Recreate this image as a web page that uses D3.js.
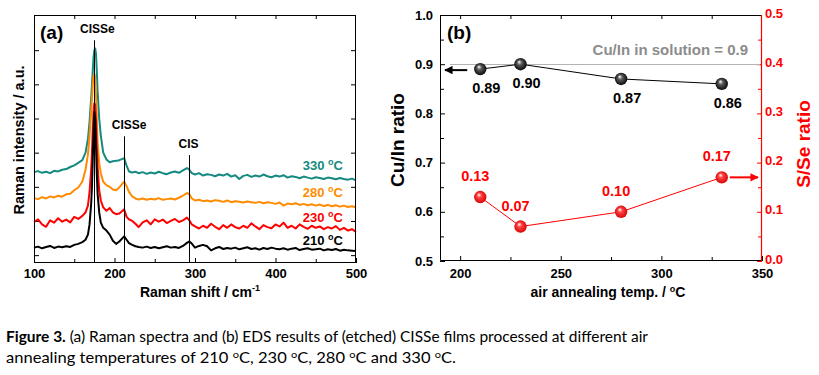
<!DOCTYPE html>
<html>
<head>
<meta charset="utf-8">
<script src="https://cdnjs.cloudflare.com/ajax/libs/d3/7.8.5/d3.min.js"></script>
<style>
  body { margin: 0; background: #fff; }
  svg { display: block; font-family: "Liberation Sans", Arial, sans-serif; }
</style>
</head>
<body>
<div id="chart"></div>
<script>
// ---- panel (a): Raman spectra (intensity in arbitrary units, offset per curve)
var ramanX = [100,105,110,115,120,125,130,135,140,145,150,155,160,
  164,167,169,171,172,173,174,175,176,177,178,179,181,183,186,190,194,198,202,206,210,212,215,218,222,226,
  230,235,240,245,250,255,260,265,270,275,280,285,290,
  293,296,
  300,305,310,315,320,325,330,335,340,345,350,355,360,365,370,375,380,385,390,395,400,
  405,410,415,420,425,430,435,440,445,450,455,460,465,470,475,480,485,490,495,500];

var int210 = [0.22,0.25,0.2,0.24,0.27,0.21,0.25,0.23,0.26,0.24,0.3,0.33,0.38,
  0.45,0.6,0.9,1.5,2.0,2.8,3.6,4.2,4.0,3.2,2.4,1.8,1.25,0.95,0.8,0.72,0.6,0.42,0.33,0.4,0.5,0.55,0.45,0.35,0.3,0.26,
  0.24,0.22,0.25,0.21,0.24,0.2,0.23,0.26,0.22,0.24,0.21,0.27,0.36,
  0.4,0.34,
  0.22,0.27,0.3,0.26,0.14,0.2,0.24,0.18,0.21,0.19,0.22,0.17,0.2,0.23,0.18,0.2,0.16,0.21,0.18,0.22,0.19,
  0.17,0.2,0.16,0.19,0.21,0.15,0.18,0.2,0.16,0.17,0.19,0.14,0.17,0.15,0.18,0.13,0.16,0.14,0.13,0.12];

var int230 = [0.97,1.05,0.9,0.83,1.02,0.95,1.08,0.98,1.04,0.96,1.12,1.06,1.15,
  1.25,1.45,1.85,2.5,3.0,3.7,4.2,4.45,4.4,3.9,3.2,2.6,1.9,1.6,1.4,1.3,1.38,1.25,1.2,1.22,1.3,1.34,1.12,1.05,1.0,0.92,
  0.82,0.96,1.02,0.9,1.05,0.98,1.04,0.94,1.0,1.06,0.97,1.02,1.1,
  1.02,0.9,
  0.84,0.78,0.86,0.8,0.92,0.83,0.76,0.88,0.8,0.9,0.82,0.78,0.86,0.8,0.93,0.84,0.76,0.88,0.82,0.79,0.9,
  0.84,0.95,0.8,0.86,0.78,0.9,0.83,0.77,0.86,0.8,0.84,0.76,0.82,0.78,0.85,0.74,0.8,0.72,0.76,0.68];

var int280 = [1.67,1.64,1.7,1.66,1.72,1.69,1.74,1.71,1.78,1.8,1.9,1.98,2.15,
  2.5,2.95,3.5,4.2,4.6,5.0,5.25,5.3,5.2,4.7,4.0,3.3,2.7,2.4,2.15,2.05,2.0,1.92,1.9,1.98,2.1,2.15,2.02,1.85,1.72,1.66,
  1.63,1.66,1.62,1.65,1.63,1.67,1.62,1.64,1.66,1.63,1.68,1.74,1.82,
  1.78,1.66,
  1.6,1.62,1.58,1.6,1.57,1.61,1.59,1.56,1.6,1.55,1.58,1.56,1.54,1.57,1.55,1.53,1.56,1.52,1.55,1.53,1.5,
  1.54,1.45,1.51,1.49,1.52,1.47,1.5,1.46,1.49,1.45,1.48,1.44,1.47,1.43,1.46,1.42,1.45,1.41,1.43,1.4];

var int330 = [2.43,2.46,2.41,2.44,2.4,2.47,2.45,2.5,2.52,2.58,2.63,2.7,2.78,
  3.0,3.4,3.9,4.6,5.0,5.4,5.8,6.0,6.05,5.9,5.4,4.8,4.0,3.5,3.0,2.8,2.72,2.75,2.76,2.78,2.82,2.84,2.62,2.45,2.42,2.44,
  2.4,2.43,2.38,2.42,2.39,2.44,2.4,2.37,2.42,2.45,2.41,2.48,2.55,
  2.5,2.4,
  2.36,2.4,2.33,2.37,2.35,2.31,2.36,2.33,2.38,2.3,2.34,2.23,2.32,2.35,2.29,2.33,2.3,2.36,2.31,2.28,2.33,
  2.3,2.34,2.27,2.31,2.29,2.25,2.3,2.27,2.24,2.28,2.26,2.23,2.27,2.25,2.22,2.26,2.23,2.21,2.24,2.19];

var tempNames = ['330', '280', '230', '210'];
var tempLabelLevel = [2.48, 1.70, 0.98, 0.29];   // label baseline, a.u.

// peak markers: position, top of marker line (a.u.), label
var peakPos = [175, 212, 292];
var peakTop = [6.29, 3.48, 2.93];
var peakNames = ['CISSe', 'CISSe', 'CIS'];

// ---- panel (b): EDS results
var annealT = [210, 230, 280, 330];
var cuInRatio = [0.89, 0.90, 0.87, 0.86];
var sSeRatio = [0.13, 0.07, 0.10, 0.17];
var cuInSolution = 0.9;

var svg = d3.select('#chart').append('svg')
  .attr('width', 819).attr('height', 375);

var defs = svg.append('defs');
function sphere(id, c0, c1, c2) {
  var g = defs.append('radialGradient').attr('id', id)
    .attr('cx', '50%').attr('cy', '50%').attr('r', '55%')
    .attr('fx', '38%').attr('fy', '30%');
  g.append('stop').attr('offset', '0%').attr('stop-color', c0);
  g.append('stop').attr('offset', '35%').attr('stop-color', c1);
  g.append('stop').attr('offset', '100%').attr('stop-color', c2);
}
sphere('ballK', '#ffffff', '#5a5a5a', '#000000');
sphere('ballR', '#ffffff', '#ff4040', '#d00000');

var arrowDefs = [['arrK', '#000'], ['arrR', '#ff0000']];
arrowDefs.forEach(function(a) {
  defs.append('marker').attr('id', a[0])
    .attr('viewBox', '0 0 10 10').attr('refX', 9).attr('refY', 5)
    .attr('markerWidth', 4.2).attr('markerHeight', 4.2)
    .attr('orient', 'auto-start-reverse')
    .append('path').attr('d', 'M0,0 L10,5 L0,10 z').attr('fill', a[1]);
});

function styleAxis(g, size, color) {
  g.attr('font-size', size).attr('font-family', null).attr('font-weight', 'bold');
  g.select('.domain').remove();
  g.selectAll('line').attr('stroke', color || '#000');
  g.selectAll('text').attr('fill', color || '#000');
}

// ================= panel (a)
var A = { l: 34, r: 356, t: 15, b: 263 };
var xa = d3.scaleLinear().domain([100, 500]).range([A.l, A.r]);
var ya = d3.scaleLinear().domain([-0.23, 7.03]).range([A.b, A.t]);

var ga = svg.append('g');

ga.append('g').attr('transform', 'translate(0,' + A.b + ')')
  .call(d3.axisBottom(xa).tickValues([100, 200, 300, 400, 500]).tickSize(-5).tickPadding(6))
  .call(styleAxis, 13);
ga.append('g').attr('transform', 'translate(0,' + A.b + ')')
  .call(d3.axisBottom(xa).tickValues([150, 250, 350, 450]).tickSize(-4).tickFormat(''))
  .call(styleAxis, 13);
ga.append('g').attr('transform', 'translate(0,' + A.t + ')')
  .call(d3.axisTop(xa).tickValues(d3.range(150, 500, 50)).tickSize(-4).tickFormat(''))
  .call(styleAxis, 13);
ga.append('g').attr('transform', 'translate(' + A.l + ',0)')
  .call(d3.axisLeft(ya).tickValues(d3.range(0, 7)).tickSize(-5).tickFormat(''))
  .call(styleAxis, 13);
ga.append('g').attr('transform', 'translate(' + A.r + ',0)')
  .call(d3.axisRight(ya).tickValues(d3.range(0, 7)).tickSize(-5).tickFormat(''))
  .call(styleAxis, 13);

var spectra = [
  { v: int330, c: '#148a80' },
  { v: int280, c: '#ff8c00' },
  { v: int230, c: '#ff0000' },
  { v: int210, c: '#000000' }
];
var line = d3.line().x(function(d, i) { return xa(ramanX[i]); }).y(function(d) { return ya(d); });

ga.append('g').selectAll('path').data(spectra).join('path')
  .attr('d', function(d) { return line(d.v); })
  .attr('fill', 'none').attr('stroke', function(d) { return d.c; })
  .attr('stroke-width', 2).attr('stroke-linejoin', 'round');

ga.append('g').selectAll('line').data(peakPos).join('line')
  .attr('x1', function(d) { return Math.round(xa(d)) + 0.5; })
  .attr('x2', function(d) { return Math.round(xa(d)) + 0.5; })
  .attr('y1', function(d, i) { return ya(peakTop[i]); })
  .attr('y2', A.b)
  .attr('stroke', '#000').attr('stroke-width', 1);

var peakDx = [3, 5, 0];
ga.append('g').selectAll('text').data(peakNames).join('text')
  .attr('x', function(d, i) { return xa(peakPos[i]) + peakDx[i]; })
  .attr('y', function(d, i) { return ya(peakTop[i]) - 7; })
  .attr('text-anchor', 'middle').attr('font-size', 12).attr('font-weight', 'bold')
  .text(function(d) { return d; });

var tl = ga.append('g').selectAll('text').data(tempNames).join('text')
  .attr('x', 343).attr('y', function(d, i) { return ya(tempLabelLevel[i]); })
  .attr('text-anchor', 'end').attr('font-size', 13).attr('font-weight', 'bold')
  .attr('fill', function(d, i) { return spectra[i].c; });
tl.append('tspan').text(function(d) { return d + ' '; });
tl.append('tspan').attr('dy', -5).attr('font-size', 9).text('o');
tl.append('tspan').attr('dy', 5).text('C');

ga.append('rect').attr('x', A.l + 0.5).attr('y', A.t + 0.5)
  .attr('width', A.r - A.l - 1).attr('height', A.b - A.t - 1)
  .attr('fill', 'none').attr('stroke', '#000').attr('stroke-width', 1);

ga.append('text').attr('x', 40).attr('y', 39)
  .attr('font-size', 19).attr('font-weight', 'bold').text('(a)');

var xta = ga.append('text').attr('x', (A.l + A.r) / 2 + 5).attr('y', 297)
  .attr('text-anchor', 'middle').attr('font-size', 14).attr('font-weight', 'bold');
xta.append('tspan').text('Raman shift / cm');
xta.append('tspan').attr('dy', -6).attr('font-size', 9).text('-1');

ga.append('text').attr('transform', 'translate(24,140) rotate(-90)')
  .attr('text-anchor', 'middle').attr('font-size', 14.5).attr('font-weight', 'bold')
  .text('Raman intensity / a.u.');

// ================= panel (b)
var B = { l: 440, r: 762, t: 15, b: 261 };
var xb = d3.scaleLinear().domain([190, 350]).range([B.l, B.r]);
var yl = d3.scaleLinear().domain([0.5, 1.0]).range([B.b, B.t]);
var yr = d3.scaleLinear().domain([0, 0.5]).range([B.b, B.t]);

var gb = svg.append('g');

gb.append('g').attr('transform', 'translate(0,' + B.b + ')')
  .call(d3.axisBottom(xb).tickValues([200, 250, 300, 350]).tickSize(-5).tickPadding(8))
  .call(styleAxis, 13);
gb.append('g').attr('transform', 'translate(0,' + B.b + ')')
  .call(d3.axisBottom(xb).tickValues([225, 275, 325]).tickSize(-4).tickFormat(''))
  .call(styleAxis, 13);
gb.append('g').attr('transform', 'translate(0,' + B.t + ')')
  .call(d3.axisTop(xb).tickValues(d3.range(200, 350, 25)).tickSize(-4).tickFormat(''))
  .call(styleAxis, 13);
gb.append('g').attr('transform', 'translate(' + B.l + ',0)')
  .call(d3.axisLeft(yl).tickValues([0.5, 0.6, 0.7, 0.8, 0.9, 1.0]).tickSize(-5).tickPadding(7).tickFormat(d3.format('.1f')))
  .call(styleAxis, 13);
gb.append('g').attr('transform', 'translate(' + B.l + ',0)')
  .call(d3.axisLeft(yl).tickValues([0.55, 0.65, 0.75, 0.85, 0.95]).tickSize(-4).tickFormat(''))
  .call(styleAxis, 13);
gb.append('g').attr('transform', 'translate(' + B.r + ',0)')
  .call(d3.axisRight(yr).tickValues([0, 0.1, 0.2, 0.3, 0.4, 0.5]).tickSize(-5).tickPadding(3).tickFormat(d3.format('.1f')))
  .call(styleAxis, 13, '#ff0000')
  .call(function(g) { g.selectAll('text').attr('y', -2); });
gb.append('g').attr('transform', 'translate(' + B.r + ',0)')
  .call(d3.axisRight(yr).tickValues([0.05, 0.15, 0.25, 0.35, 0.45]).tickSize(-4).tickFormat(''))
  .call(styleAxis, 13, '#ff0000');

// frame: black left/top/bottom, red right
gb.append('path')
  .attr('d', 'M' + (B.r) + ',' + (B.t + 0.5) + 'H' + (B.l + 0.5) + 'V' + (B.b - 0.5) + 'H' + B.r)
  .attr('fill', 'none').attr('stroke', '#000');
gb.append('line').attr('x1', B.r - 0.5).attr('x2', B.r - 0.5).attr('y1', B.t).attr('y2', B.b)
  .attr('stroke', '#ff0000').attr('stroke-width', 1.2);

// solution reference
gb.append('line').attr('x1', B.l + 10).attr('x2', B.r - 2)
  .attr('y1', Math.round(yl(cuInSolution)) + 0.5).attr('y2', Math.round(yl(cuInSolution)) + 0.5)
  .attr('stroke', '#b4b4b4').attr('stroke-width', 1);
gb.append('text').attr('x', 748).attr('y', yl(cuInSolution) - 9)
  .attr('text-anchor', 'end').attr('font-size', 15).attr('font-weight', 'bold')
  .attr('fill', '#8c8c8c').text('Cu/In in solution = ' + cuInSolution);

var lineK = d3.line().x(function(d, i) { return xb(annealT[i]); }).y(function(d) { return yl(d); });
var lineR = d3.line().x(function(d, i) { return xb(annealT[i]); }).y(function(d) { return yr(d); });
gb.append('path').attr('d', lineK(cuInRatio)).attr('fill', 'none').attr('stroke', '#000').attr('stroke-width', 1);
gb.append('path').attr('d', lineR(sSeRatio)).attr('fill', 'none').attr('stroke', '#ff0000').attr('stroke-width', 1);

// arrows pointing to each axis
gb.append('line')
  .attr('x1', xb(annealT[0]) - 13).attr('x2', xb(190) + 5)
  .attr('y1', yl(cuInRatio[0]) + 1).attr('y2', yl(cuInRatio[0]) + 1)
  .attr('stroke', '#000').attr('stroke-width', 2).attr('marker-end', 'url(#arrK)');
gb.append('line')
  .attr('x1', xb(annealT[3]) + 8).attr('x2', B.r - 4)
  .attr('y1', yr(sSeRatio[3])).attr('y2', yr(sSeRatio[3]))
  .attr('stroke', '#ff0000').attr('stroke-width', 2).attr('marker-end', 'url(#arrR)');

gb.append('g').selectAll('circle').data(cuInRatio).join('circle')
  .attr('cx', function(d, i) { return xb(annealT[i]); })
  .attr('cy', function(d) { return yl(d); })
  .attr('r', 6.2).attr('fill', 'url(#ballK)');
gb.append('g').selectAll('circle').data(sSeRatio).join('circle')
  .attr('cx', function(d, i) { return xb(annealT[i]); })
  .attr('cy', function(d) { return yr(d); })
  .attr('r', 6.2).attr('fill', 'url(#ballR)');

gb.append('g').selectAll('text').data(cuInRatio).join('text')
  .attr('x', function(d, i) { return xb(annealT[i]) + 6; })
  .attr('y', function(d) { return yl(d) + 24; })
  .attr('text-anchor', 'middle').attr('font-size', 14.5).attr('font-weight', 'bold')
  .text(d3.format('.2f'));
gb.append('g').selectAll('text').data(sSeRatio).join('text')
  .attr('x', function(d, i) { return xb(annealT[i]) - 5; })
  .attr('y', function(d) { return yr(d) - 16; })
  .attr('text-anchor', 'middle').attr('font-size', 14.5).attr('font-weight', 'bold')
  .attr('fill', '#ff0000')
  .text(d3.format('.2f'));

gb.append('text').attr('x', 447).attr('y', 39)
  .attr('font-size', 19).attr('font-weight', 'bold').text('(b)');

var xtb = gb.append('text').attr('x', 608).attr('y', 297)
  .attr('text-anchor', 'middle').attr('font-size', 14).attr('font-weight', 'bold');
xtb.append('tspan').text('air annealing temp. / ');
xtb.append('tspan').attr('dy', -5).attr('font-size', 9).text('o');
xtb.append('tspan').attr('dy', 5).text('C');

gb.append('text').attr('transform', 'translate(404,140) rotate(-90)')
  .attr('text-anchor', 'middle').attr('font-size', 19).attr('font-weight', 'bold')
  .text('Cu/In ratio');
gb.append('text').attr('transform', 'translate(810,144) rotate(-90)')
  .attr('text-anchor', 'middle').attr('font-size', 19).attr('font-weight', 'bold')
  .attr('fill', '#ff0000').text('S/Se ratio');

// ================= caption
var cap = svg.append('g').attr('font-family', 'Lato, "Liberation Sans", sans-serif').attr('font-size', 15);
var c1 = cap.append('text').attr('x', 6).attr('y', 342)
  .attr('textLength', 642).attr('lengthAdjust', 'spacingAndGlyphs');
c1.append('tspan').attr('font-weight', 'bold').text('Figure 3.');
c1.append('tspan').text(' (a) Raman spectra and (b) EDS results of (etched) CISSe films processed at different air');

var c2 = cap.append('text').attr('x', 6).attr('y', 363)
  .attr('textLength', 450).attr('lengthAdjust', 'spacingAndGlyphs');
var capTemps = ['210', '230', '280', '330'];
c2.append('tspan').text('annealing temperatures of ');
capTemps.forEach(function(t, i) {
  c2.append('tspan').text(t + ' ');
  c2.append('tspan').attr('dy', -5).attr('font-size', 10).text('o');
  c2.append('tspan').attr('dy', 5).text('C' + (i < 2 ? ', ' : i == 2 ? ' and ' : '.'));
});
</script>
</body>
</html>
